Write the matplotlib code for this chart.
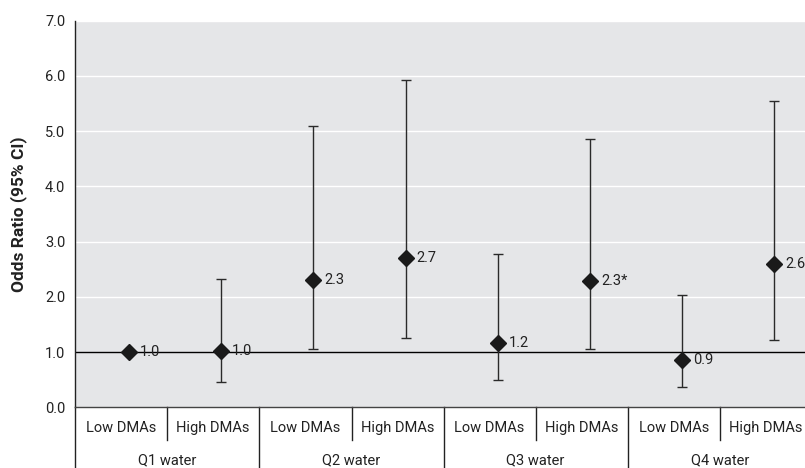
import matplotlib
matplotlib.use("Agg")
import matplotlib.pyplot as plt
import matplotlib.transforms as mtransforms
import numpy as np

plt.rcParams['font.family'] = ['Roboto', 'DejaVu Sans']

# ---- data ----
sub_labels = ["Low DMAs", "High DMAs", "Low DMAs", "High DMAs",
              "Low DMAs", "High DMAs", "Low DMAs", "High DMAs"]
group_labels = ["Q1 water", "Q2 water", "Q3 water", "Q4 water"]
odds = [1.0, 1.02, 2.31, 2.71, 1.17, 2.28, 0.86, 2.60]
ci_low = [np.nan, 0.46, 1.05, 1.26, 0.49, 1.05, 0.36, 1.21]
ci_high = [np.nan, 2.32, 5.10, 5.92, 2.77, 4.85, 2.03, 5.55]
value_labels = ["1.0", "1.0", "2.3", "2.7", "1.2", "2.3*", "0.9", "2.6*"]
yticks = [0.0, 1.0, 2.0, 3.0, 4.0, 5.0, 6.0, 7.0]

W, H = 805, 468
fig = plt.figure(figsize=(W / 100, H / 100), dpi=100)
ax_left, ax_right = 75 / W, 1.0
ax_bottom = (H - 407.3) / H
ax_top = (H - 20.7) / H
ax = fig.add_axes([ax_left, ax_bottom, ax_right - ax_left, ax_top - ax_bottom])
ax.set_facecolor("#e5e6e8")

x = np.arange(len(odds))
off = 0.586
ax.set_xlim(-off, (805 - 75) / 92.2 - off)
ax.set_ylim(0, 7)

for yv in yticks[2:]:
    ax.axhline(yv, color="white", lw=1.0, zorder=1)
ax.axhline(1.0, color="black", lw=1.0, zorder=2)

lo = np.array(ci_low); hi = np.array(ci_high); od = np.array(odds)
mask = ~np.isnan(lo)
err = np.vstack([od[mask] - lo[mask], hi[mask] - od[mask]])
ax.errorbar(x[mask], od[mask], yerr=err, fmt="none", ecolor="#2a2a2a",
            elinewidth=1.0, capsize=3.5, capthick=1.0, zorder=3)
ax.plot(x, od, linestyle="none", marker="D", markersize=8.5,
        color="#1a1a1a", zorder=4)

for xi, yi, lab in zip(x, od, value_labels):
    t = mtransforms.offset_copy(ax.transData, fig=fig, x=11, y=0, units="dots")
    ax.text(xi, yi, lab, transform=t, ha="left", va="center",
            fontsize=10.5, color="#222222", zorder=5)

ax.set_yticks(yticks)
ax.set_yticklabels([f"{v:.1f}" for v in yticks], fontsize=10.5, color="#222222")
ax.tick_params(axis="y", length=0, pad=7)
ax.set_xticks([])
for s in ["top", "right"]:
    ax.spines[s].set_visible(False)
ax.spines["left"].set_color("#222222")
ax.spines["bottom"].set_color("#444444")
ax.spines["left"].set_linewidth(1.0)
ax.spines["bottom"].set_linewidth(1.0)

ax.set_ylabel("Odds Ratio (95% CI)", fontsize=12.5, fontweight="bold",
              color="#222222", labelpad=13)

# category axis area
trans = mtransforms.blended_transform_factory(ax.transData, ax.transAxes)
for i, lab in enumerate(sub_labels):
    ax.text(i - 0.09, -0.0535, lab, transform=trans, ha="center", va="center",
            fontsize=10.5, color="#222222", clip_on=False)
for g, lab in enumerate(group_labels):
    ax.text(2 * g + 0.41, -0.136, lab, transform=trans, ha="center", va="center",
            fontsize=10.5, color="#222222", clip_on=False)
# separators
for i in range(9):
    xb = i - off
    if i % 2 == 0:
        y1 = -0.2
    else:
        y1 = -0.0846
    ax.plot([xb, xb], [0, y1], transform=trans, color="#222222", lw=1.0,
            clip_on=False)

fig.savefig("out.png", dpi=100)
